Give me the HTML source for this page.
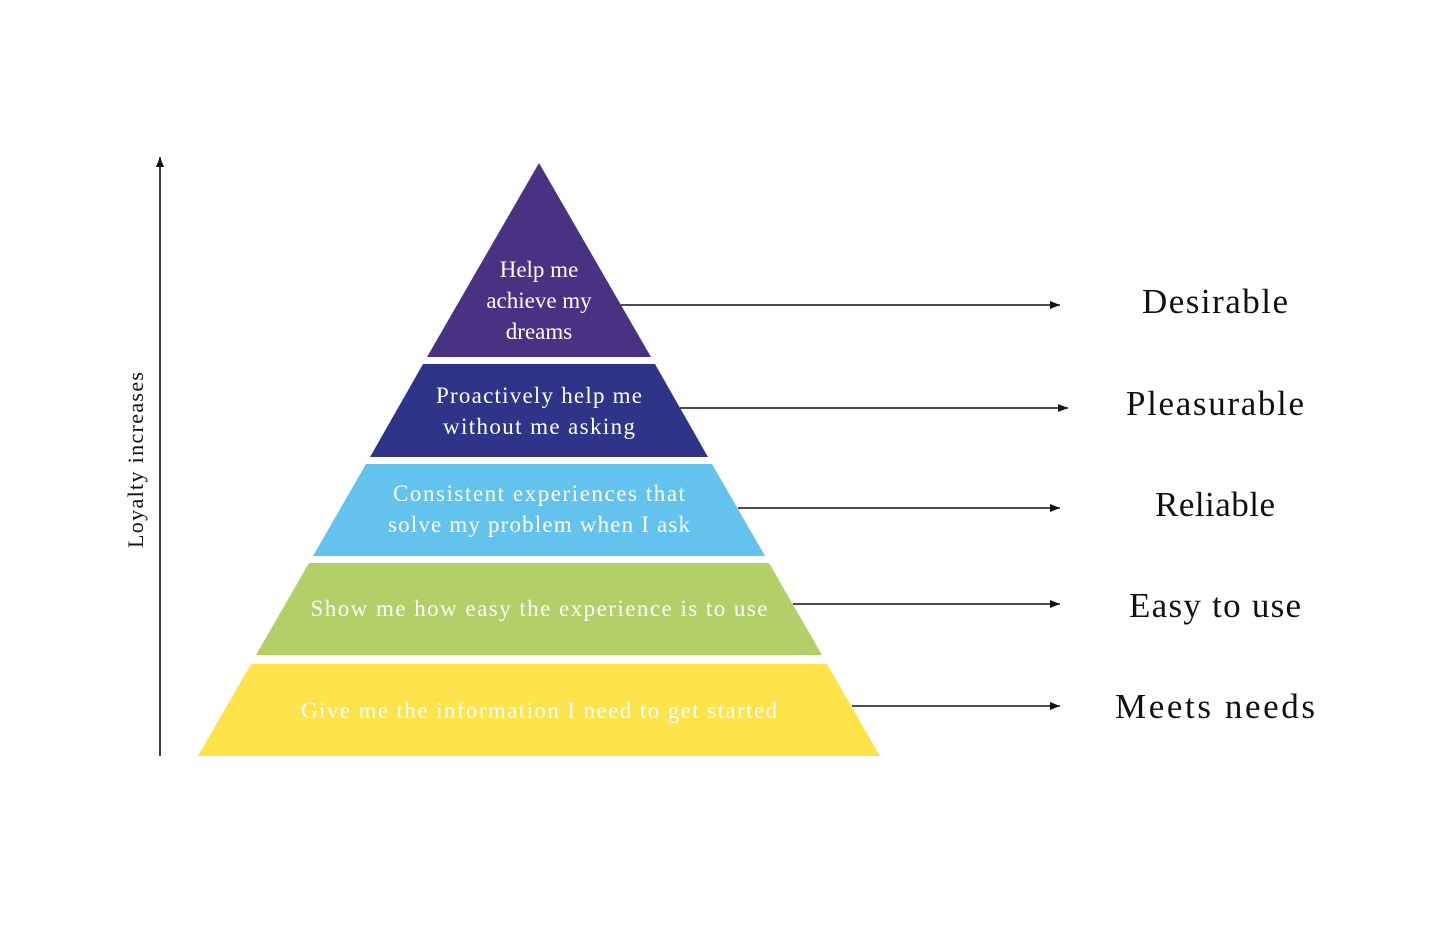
<!DOCTYPE html>
<html><head><meta charset="utf-8"><style>html,body{margin:0;padding:0;background:#fff}svg{display:block}</style></head>
<body>
<svg width="1456" height="931" viewBox="0 0 1456 931" xmlns="http://www.w3.org/2000/svg">
<rect width="1456" height="931" fill="#fff"/>
<defs><marker id="a" markerWidth="10" markerHeight="8" refX="10" refY="4" orient="auto" markerUnits="userSpaceOnUse"><path d="M0,0 L10,4 L0,8 Z" fill="#111"/></marker></defs>
<polygon points="539,163 651,357 427,357" fill="#4a3283"/>
<polygon points="423,364 655,364 708,457 370,457" fill="#2e3488"/>
<polygon points="366,464 712,464 765,556 313,556" fill="#63c3ec"/>
<polygon points="309,563 769,563 822,655 256,655" fill="#b2cf68"/>
<polygon points="251,664 827,664 880,756 198,756" fill="#fee44a"/>
<g stroke="#111" stroke-width="1.6" marker-end="url(#a)">
<line x1="621" y1="305" x2="1060" y2="305"/>
<line x1="680" y1="408" x2="1068" y2="408"/>
<line x1="738" y1="508" x2="1060" y2="508"/>
<line x1="793" y1="604" x2="1060" y2="604"/>
<line x1="852" y1="706" x2="1060" y2="706"/>
<line x1="160" y1="756" x2="160" y2="157"/>
</g>
<g font-family="Liberation Serif, serif" fill="#fff" font-size="23" text-anchor="middle">
<text x="539" y="277">Help me</text>
<text x="539" y="308">achieve my</text>
<text x="539" y="339">dreams</text>
<text x="539" y="403" textLength="206">Proactively help me</text>
<text x="539" y="434" textLength="192">without me asking</text>
<text x="539" y="501" textLength="292">Consistent experiences that</text>
<text x="539" y="532" textLength="302">solve my problem when I ask</text>
<text x="539" y="616" textLength="457">Show me how easy the experience is to use</text>
<text x="539" y="718" textLength="476">Give me the information I need to get started</text>
</g>
<g font-family="Liberation Serif, serif" fill="#111" font-size="35" text-anchor="middle">
<text x="1215" y="313" textLength="146">Desirable</text>
<text x="1215" y="415" textLength="178">Pleasurable</text>
<text x="1215" y="516" textLength="120">Reliable</text>
<text x="1215" y="617" textLength="172">Easy to use</text>
<text x="1215" y="718" textLength="200">Meets needs</text>
</g>
<text transform="translate(143,460) rotate(-90)" font-family="Liberation Serif, serif" font-size="22" fill="#111" text-anchor="middle" textLength="176">Loyalty increases</text>
</svg>
</body></html>
